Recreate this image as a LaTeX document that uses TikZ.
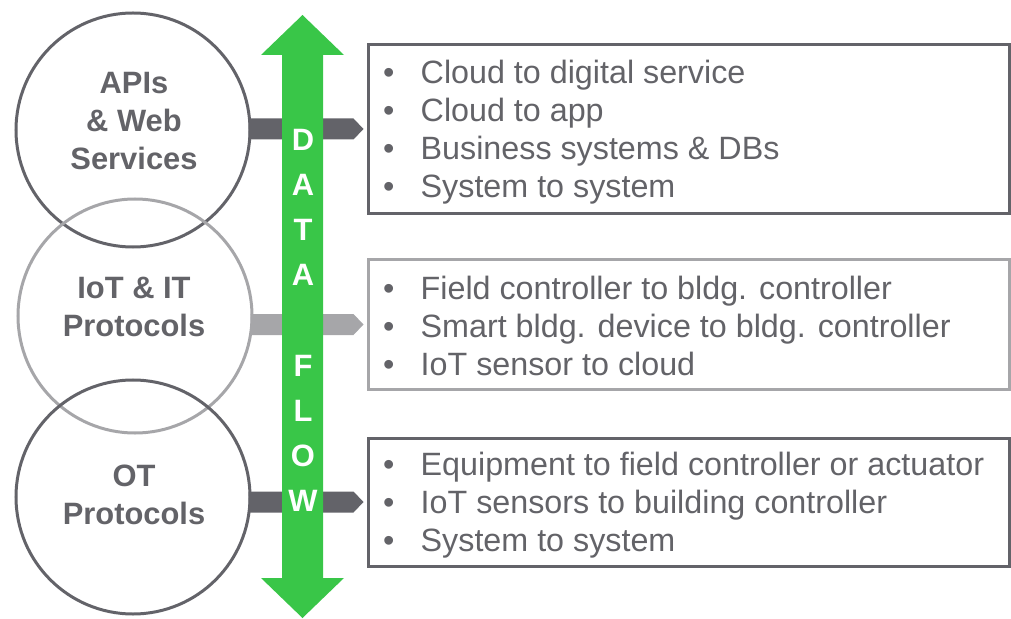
\documentclass[tikz,border=0pt]{standalone}
\usepackage{fontspec}
\setmainfont{Liberation Sans}
\usetikzlibrary{calc}

\definecolor{ringdark}{RGB}{99,99,105}
\definecolor{ringlight}{RGB}{166,166,169}
\definecolor{textgrey}{RGB}{99,99,104}
\definecolor{flowgreen}{RGB}{57,198,72}

\tikzset{
  ring/.style={circle, draw=ringdark, line width=3bp, minimum size=234bp, inner sep=0pt},
  ringtext/.style={align=center, inner sep=0pt, text=textgrey, font=\fontsize{31}{38}\selectfont\bfseries},
  listbox/.style={draw=ringdark, line width=3bp, minimum width=641bp, inner sep=0pt},
  item/.style={anchor=base west, inner sep=0pt, text=textgrey, font=\fontsize{32.4}{38}\selectfont,
    execute at begin node={\makebox[37.5bp][l]{\textbullet}}},
  letter/.style={anchor=base, inner sep=0pt, text=white, font=\fontsize{31}{36}\selectfont\bfseries}
}

\begin{document}
\begin{tikzpicture}[x=1bp,y=-1bp]
  \useasboundingbox (0,0) rectangle (1011,619);

  % circles
  \node[ring] (apis) at (133,130) {};
  \node[ring, draw=ringlight] (iot) at (135,316) {};
  \node[ring] (ot) at (133,497) {};
  \node[ringtext] (apis-txt) at (134,121) {APIs\\\& Web\\Services};
  \node[ringtext] (iot-txt) at (134,307) {IoT \& IT\\Protocols};
  \node[ringtext] (ot-txt) at (134,495) {OT\\Protocols};

  % boxes
  \node[listbox, minimum height=168bp] (cloud) at (688.5,129) {};
  \node[listbox, draw=ringlight, minimum height=129bp] (field) at (688.5,324.5) {};
  \node[listbox, minimum height=128bp] (equip) at (688.5,502) {};

  % grey arrows into the boxes
  \foreach \from/\to/\col in {apis/cloud/ringdark, iot/field/ringlight, ot/equip/ringdark}
    \fill[\col] ($(\from.east |- \to.west)+(-3,-10.5)$) -- ($(\to.west)+(-13,-10.5)$)
      -- ($(\to.west)+(-3,0)$) -- ($(\to.west)+(-13,10.5)$)
      -- ($(\from.east |- \to.west)+(-3,10.5)$) -- cycle;

  % data flow arrow
  \fill[flowgreen] (282,55) -- (261,55) -- (302.5,15) -- (344,55) -- (323,55)
    -- (323,578) -- (344,578) -- (302.5,618) -- (261,578) -- (282,578) -- cycle;
  \foreach \c/\k in {D/0,A/1,T/2,A/3,F/5,L/6,O/7,W/8}
    \node[letter] (flow-\k) at (303,151+45*\k) {\c};

  % lists
  \foreach \txt [count=\i from 0] in {Cloud to digital service, Cloud to app,
      Business systems \& DBs, System to system}
    \node[item] (cloud-\i) at (383,83.5+38*\i) {\txt};
  \foreach \txt [count=\i from 0] in {Field controller to bldg. controller,
      Smart bldg. device to bldg. controller, IoT sensor to cloud}
    \node[item] (field-\i) at (383,299.5+38*\i) {\txt};
  \foreach \txt [count=\i from 0] in {Equipment to field controller or actuator,
      IoT sensors to building controller, System to system}
    \node[item] (equip-\i) at (383,475.5+38*\i) {\txt};
\end{tikzpicture}
\end{document}
